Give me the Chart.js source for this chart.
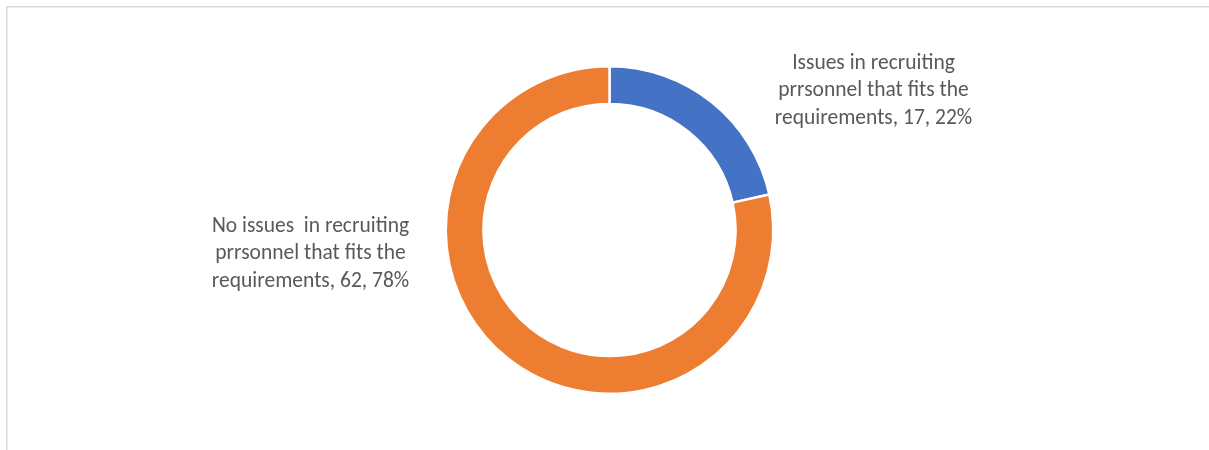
<!DOCTYPE html>
<html>
<head>
<meta charset="utf-8">
<script src="https://cdn.jsdelivr.net/npm/chart.js@4/dist/chart.umd.min.js"></script>
<style>
  html, body { margin: 0; padding: 0; background: #fff; overflow: hidden; }
  canvas { display: block; }
</style>
</head>
<body>
<canvas id="chart" width="1209" height="450"></canvas>
<script>
// categories and values
const labels = [
    'Issues in recruiting prrsonnel that fits the requirements',
    'No issues  in recruiting prrsonnel that fits the requirements'
];
const counts = [17, 62];
const percents = ['22%', '78%'];
// label lines as shown on the chart
const labelLines = [
    ['Issues in recruiting', 'prrsonnel that fits the', 'requirements, 17, 22%'],
    ['No issues  in recruiting', 'prrsonnel that fits the', 'requirements, 62, 78%']
];
const colors = ['#4472C4', '#ED7D31'];

// offsets of each label block centre from the doughnut centre
const labelOffsets = [[264, -139], [-299, 24]];

// light frame on the left and top edges only
const framePlugin = {
    id: 'frame',
    beforeDraw(chart) {
        const ctx = chart.ctx;
        ctx.save();
        ctx.strokeStyle = '#d9d9d9';
        ctx.lineWidth = 1.5;
        ctx.beginPath();
        ctx.moveTo(6.75, chart.height);
        ctx.lineTo(6.75, 6.75);
        ctx.lineTo(chart.width, 6.75);
        ctx.stroke();
        ctx.restore();
    }
};

const labelPlugin = {
    id: 'sliceLabels',
    afterDraw(chart) {
        const ctx = chart.ctx;
        const meta = chart.getDatasetMeta(0);
        ctx.save();
        ctx.fillStyle = '#595959';
        ctx.font = '21.5px Carlito, Calibri, Lato, sans-serif';
        ctx.textAlign = 'center';
        ctx.textBaseline = 'middle';
        const lh = 27.5;
        meta.data.forEach((arc, i) => {
            const cx = arc.x + labelOffsets[i][0];
            const cy = arc.y + labelOffsets[i][1];
            const lines = labelLines[i];
            lines.forEach((line, j) => {
                ctx.fillText(line, cx, cy + (j - (lines.length - 1) / 2) * lh);
            });
        });
        ctx.restore();
    }
};

new Chart(document.getElementById('chart'), {
    type: 'doughnut',
    data: {
        labels: labels,
        datasets: [{
            data: counts,
            backgroundColor: colors,
            borderColor: '#ffffff',
            borderWidth: 2.5
        }]
    },
    options: {
        responsive: false,
        animation: false,
        cutout: '77%',
        layout: { padding: { top: 65, bottom: 55, left: 10, right: 0 } },
        plugins: {
            legend: { display: false },
            tooltip: { enabled: false }
        }
    },
    plugins: [framePlugin, labelPlugin]
});
</script>
</body>
</html>
